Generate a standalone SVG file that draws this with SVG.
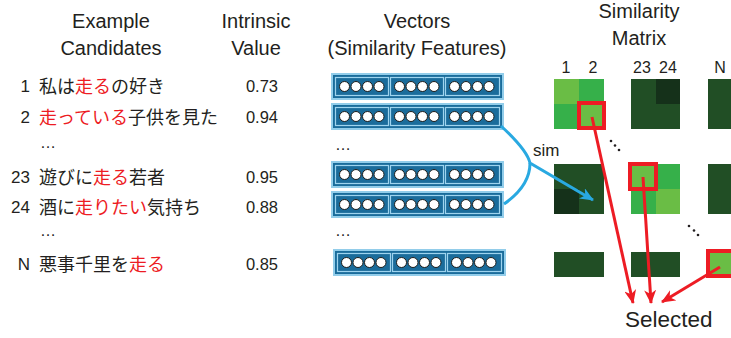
<svg xmlns="http://www.w3.org/2000/svg" xmlns:xlink="http://www.w3.org/1999/xlink" width="731" height="338" viewBox="0 0 731 338">
<style>
text{font-family:"Liberation Sans","Noto Sans CJK JP",sans-serif;fill:#231f20}
.hd{font-size:20px;text-anchor:middle}
.num{font-size:17px;text-anchor:end}
.jp{font-size:18px;font-family:"Noto Sans CJK JP",sans-serif}
.red{fill:#ed1c24}
.val{font-size:16.5px;text-anchor:middle}
.col{font-size:16px;text-anchor:middle}
.dots{font-size:16px}
.seg{fill:none;stroke:#9ed4ef;stroke-width:1.2}
.bead{fill:#fff;stroke:#1d1d1b;stroke-width:1}
.lt{fill:#6abd45}.md{fill:#36b04a}.dk{fill:#214e25}.xd{fill:#15311a}
.box{fill:none;stroke:#ed1c24;stroke-width:4}
.ra{fill:none;stroke:#ed1c24;stroke-width:3}
.ba{fill:none;stroke:#29a9e1;stroke-width:3}
</style>
<defs>
<marker id="mr" viewBox="0 0 14 12" refX="13" refY="6" markerWidth="14" markerHeight="12" markerUnits="userSpaceOnUse" orient="auto">
<path d="M0,0 L14,6 L0,12 L4,6 z" fill="#ed1c24"/>
</marker>
<marker id="mb" viewBox="0 0 14 12" refX="13" refY="6" markerWidth="14" markerHeight="12" markerUnits="userSpaceOnUse" orient="auto">
<path d="M0,0 L14,6 L0,12 L4,6 z" fill="#29a9e1"/>
</marker>
<g id="vec">
<rect x="1" y="1" width="171" height="25" fill="#1a6c9b" stroke="#92cdea" stroke-width="2"/>
<rect x="4.5" y="4.5" width="53" height="18" class="seg"/>
<rect x="59.5" y="4.5" width="53" height="18" class="seg"/>
<rect x="114.5" y="4.5" width="54" height="18" class="seg"/>
<circle class="bead" cx="13.5" cy="13.5" r="5"/><circle class="bead" cx="25" cy="13.5" r="5"/><circle class="bead" cx="36.5" cy="13.5" r="5"/><circle class="bead" cx="48" cy="13.5" r="5"/>
<circle class="bead" cx="68.5" cy="13.5" r="5"/><circle class="bead" cx="80" cy="13.5" r="5"/><circle class="bead" cx="91.5" cy="13.5" r="5"/><circle class="bead" cx="103" cy="13.5" r="5"/>
<circle class="bead" cx="123.5" cy="13.5" r="5"/><circle class="bead" cx="135" cy="13.5" r="5"/><circle class="bead" cx="146.5" cy="13.5" r="5"/><circle class="bead" cx="158" cy="13.5" r="5"/>
</g>
</defs>
<rect width="731" height="338" fill="#fff"/>

<g id="headers">
<text class="hd" x="111" y="28">Example</text>
<text class="hd" x="111" y="55">Candidates</text>
<text class="hd" x="256" y="28">Intrinsic</text>
<text class="hd" x="256" y="55">Value</text>
<text class="hd" x="417" y="28">Vectors</text>
<text class="hd" x="417" y="55">(Similarity Features)</text>
<text class="hd" x="639" y="18">Similarity</text>
<text class="hd" x="639" y="45">Matrix</text>
</g>

<g id="row-1">
<text class="num" x="30" y="92">1</text>
<text class="jp" x="39" y="93">私は<tspan class="red">走る</tspan>の好き</text>
<text class="val" x="262" y="92">0.73</text>
</g>
<g id="row-2">
<text class="num" x="30" y="123">2</text>
<text class="jp" x="39" y="124"><tspan class="red">走っている</tspan>子供を見た</text>
<text class="val" x="262" y="123">0.94</text>
</g>
<g id="row-23">
<text class="num" x="30" y="183">23</text>
<text class="jp" x="39" y="184">遊びに<tspan class="red">走る</tspan>若者</text>
<text class="val" x="262" y="183">0.95</text>
</g>
<g id="row-24">
<text class="num" x="30" y="213">24</text>
<text class="jp" x="39" y="214">酒に<tspan class="red">走りたい</tspan>気持ち</text>
<text class="val" x="262" y="213">0.88</text>
</g>
<g id="row-N">
<text class="num" x="30" y="270">N</text>
<text class="jp" x="39" y="271">悪事千里を<tspan class="red">走る</tspan></text>
<text class="val" x="262" y="270">0.85</text>
</g>
<g id="ellipses">
<text class="dots" x="40" y="148">…</text>
<text class="dots" x="40" y="236">…</text>
<text class="dots" x="335" y="150">…</text>
<text class="dots" x="335" y="236">…</text>
</g>

<g id="vec-1"><use xlink:href="#vec" x="331" y="73"/></g>
<g id="vec-2"><use xlink:href="#vec" x="331" y="103"/></g>
<g id="vec-23"><use xlink:href="#vec" x="331" y="161"/></g>
<g id="vec-24"><use xlink:href="#vec" x="331" y="191"/></g>
<g id="vec-N"><use xlink:href="#vec" x="333" y="249"/></g>

<g id="matrix">
<text class="col" x="566" y="73">1</text>
<text class="col" x="593" y="73">2</text>
<text class="col" x="642" y="73">23</text>
<text class="col" x="668" y="73">24</text>
<text class="col" x="720" y="73">N</text>
<rect class="lt" x="554" y="79" width="25" height="25"/>
<rect class="md" x="579" y="79" width="25" height="25"/>
<rect class="md" x="554" y="104" width="25" height="25"/>
<rect class="lt" x="579" y="104" width="25" height="25"/>
<rect class="dk" x="631" y="79" width="49" height="50"/>
<rect class="xd" x="656" y="79" width="24" height="25"/>
<rect class="dk" x="708" y="79" width="23" height="50"/>
<rect class="dk" x="554" y="164" width="50" height="50"/>
<rect class="xd" x="554" y="189" width="25" height="25"/>
<rect class="lt" x="631" y="164" width="25" height="25"/>
<rect class="md" x="656" y="164" width="24" height="25"/>
<rect class="md" x="631" y="189" width="25" height="25"/>
<rect class="lt" x="656" y="189" width="24" height="25"/>
<rect class="dk" x="708" y="164" width="23" height="50"/>
<rect class="dk" x="554" y="252" width="50" height="25"/>
<rect class="dk" x="631" y="252" width="49" height="25"/>
<rect class="lt" x="708" y="252" width="23" height="25"/>
<g fill="#231f20">
<circle cx="611" cy="141" r="1.3"/><circle cx="615" cy="145.5" r="1.3"/><circle cx="619" cy="150" r="1.3"/>
<circle cx="689" cy="226" r="1.3"/><circle cx="694" cy="230.5" r="1.3"/><circle cx="698" cy="235" r="1.3"/>
</g>
<rect class="box" x="579" y="103" width="25" height="25"/>
<rect class="box" x="630" y="164" width="26" height="25"/>
<rect class="box" x="708" y="251" width="30" height="25"/>
</g>

<g id="selected">
<text x="625" y="327" style="font-size:22.5px">Selected</text>
</g>
<g id="sim-label">
<text x="533" y="156" style="font-size:17px">sim</text>
</g>

<g id="connectors">
<path class="ba" d="M501,126 Q527,150 530,163 L593,200" marker-end="url(#mb)"/>
<path class="ba" d="M504,204 Q530,186 530,163"/>
<path class="ra" d="M592,117 L633,303" marker-end="url(#mr)"/>
<path class="ra" d="M643,177 L651,303" marker-end="url(#mr)"/>
<path class="ra" d="M720,267 L662,302" marker-end="url(#mr)"/>
</g>
</svg>
